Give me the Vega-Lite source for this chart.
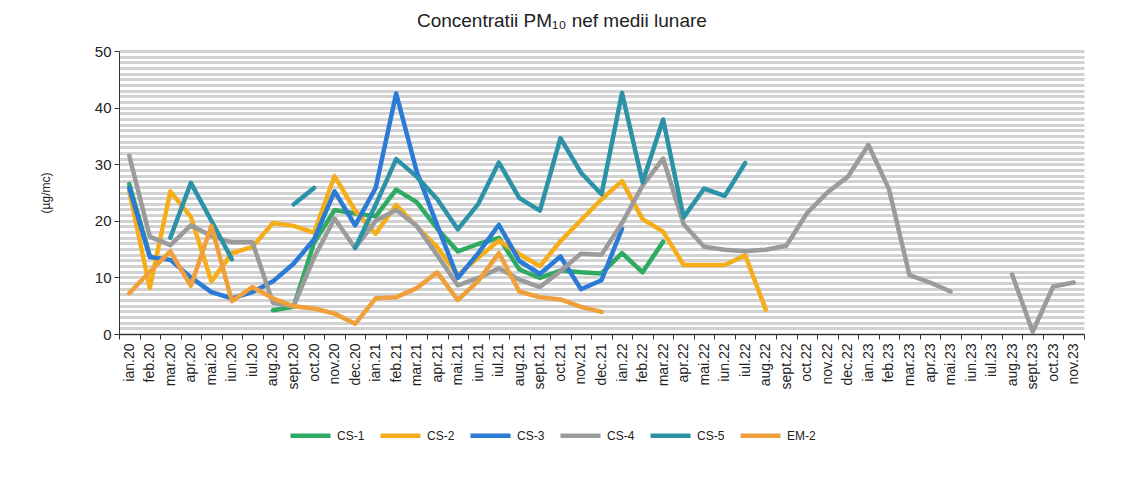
{
  "$schema": "https://vega.github.io/schema/vega-lite/v6.json",
  "width": 965,
  "height": 283,
  "padding": {"left": 39, "top": 12, "right": 10, "bottom": 5},
  "background": "white",
  "config": {"font": "Liberation Sans", "view": {"stroke": null}},
  "title": {"text": "Concentratii PM₁₀ nef medii lunare", "fontSize": 19, "fontWeight": "normal", "color": "#222222", "anchor": "middle", "frame": "bounds", "offset": 13},
  "data": {"values": [
    {"m": "ian.20", "CS-1": 26.5, "CS-2": 25.2, "CS-3": 25.8, "CS-4": 31.5, "CS-5": null, "EM-2": 7.2},
    {"m": "feb.20", "CS-1": 13.8, "CS-2": 8.1, "CS-3": 13.6, "CS-4": 17.2, "CS-5": null, "EM-2": 11},
    {"m": "mar.20", "CS-1": null, "CS-2": 25.2, "CS-3": 13.1, "CS-4": 15.7, "CS-5": 17, "EM-2": 14.6},
    {"m": "apr.20", "CS-1": null, "CS-2": 20.7, "CS-3": 10, "CS-4": 19.2, "CS-5": 26.7, "EM-2": 8.5},
    {"m": "mai.20", "CS-1": null, "CS-2": 9.3, "CS-3": 7.4, "CS-4": 17.3, "CS-5": 20, "EM-2": 19.1},
    {"m": "iun.20", "CS-1": null, "CS-2": 14.3, "CS-3": 6.3, "CS-4": 16.2, "CS-5": 13.2, "EM-2": 5.8},
    {"m": "iul.20", "CS-1": null, "CS-2": 15.4, "CS-3": 7.4, "CS-4": 16.2, "CS-5": null, "EM-2": 8.3},
    {"m": "aug.20", "CS-1": 4.2, "CS-2": 19.6, "CS-3": 9.3, "CS-4": 5.5, "CS-5": null, "EM-2": 6.3},
    {"m": "sept.20", "CS-1": 4.8, "CS-2": 19.1, "CS-3": 12.4, "CS-4": 4.9, "CS-5": 22.9, "EM-2": 4.9},
    {"m": "oct.20", "CS-1": 16.1, "CS-2": 17.9, "CS-3": 16.7, "CS-4": 13.5, "CS-5": 25.8, "EM-2": 4.5},
    {"m": "nov.20", "CS-1": 21.9, "CS-2": 27.9, "CS-3": 25.2, "CS-4": 20.4, "CS-5": null, "EM-2": 3.6},
    {"m": "dec.20", "CS-1": 21.3, "CS-2": 21.8, "CS-3": 19.2, "CS-4": 15.2, "CS-5": 15.2, "EM-2": 1.8},
    {"m": "ian.21", "CS-1": 20.8, "CS-2": 17.7, "CS-3": 25.8, "CS-4": 20, "CS-5": 22.8, "EM-2": 6.3},
    {"m": "feb.21", "CS-1": 25.5, "CS-2": 22.8, "CS-3": 42.5, "CS-4": 21.9, "CS-5": 30.9, "EM-2": 6.5},
    {"m": "mar.21", "CS-1": 23.3, "CS-2": 19, "CS-3": 28.7, "CS-4": 19.1, "CS-5": 27.8, "EM-2": 8.1},
    {"m": "apr.21", "CS-1": 18.6, "CS-2": 15.3, "CS-3": 19.2, "CS-4": 13.9, "CS-5": 23.8, "EM-2": 10.9},
    {"m": "mai.21", "CS-1": 14.6, "CS-2": 10.4, "CS-3": 9.9, "CS-4": 8.6, "CS-5": 18.5, "EM-2": 6},
    {"m": "iun.21", "CS-1": 15.9, "CS-2": 13.5, "CS-3": 14.3, "CS-4": 9.9, "CS-5": 23, "EM-2": 9.4},
    {"m": "iul.21", "CS-1": 17, "CS-2": 16.5, "CS-3": 19.3, "CS-4": 11.6, "CS-5": 30.3, "EM-2": 14.3},
    {"m": "aug.21", "CS-1": 11.4, "CS-2": 14.1, "CS-3": 12.9, "CS-4": 9.6, "CS-5": 24, "EM-2": 7.5},
    {"m": "sept.21", "CS-1": 9.9, "CS-2": 12, "CS-3": 10.6, "CS-4": 8.3, "CS-5": 21.8, "EM-2": 6.5},
    {"m": "oct.21", "CS-1": 11.2, "CS-2": 16.4, "CS-3": 13.7, "CS-4": 11.1, "CS-5": 34.6, "EM-2": 6.1},
    {"m": "nov.21", "CS-1": 10.9, "CS-2": 20.1, "CS-3": 7.9, "CS-4": 14.2, "CS-5": 28.5, "EM-2": 4.8},
    {"m": "dec.21", "CS-1": 10.7, "CS-2": 23.8, "CS-3": 9.5, "CS-4": 14, "CS-5": 24.7, "EM-2": 3.9},
    {"m": "ian.22", "CS-1": 14.3, "CS-2": 27, "CS-3": 18.6, "CS-4": 19.6, "CS-5": 42.6, "EM-2": null},
    {"m": "feb.22", "CS-1": 10.9, "CS-2": 20.3, "CS-3": null, "CS-4": 26.2, "CS-5": 26.8, "EM-2": null},
    {"m": "mar.22", "CS-1": 16.3, "CS-2": 18.1, "CS-3": null, "CS-4": 31, "CS-5": 37.9, "EM-2": null},
    {"m": "apr.22", "CS-1": null, "CS-2": 12.2, "CS-3": null, "CS-4": 19.4, "CS-5": 20.6, "EM-2": null},
    {"m": "mai.22", "CS-1": null, "CS-2": 12.2, "CS-3": null, "CS-4": 15.4, "CS-5": 25.7, "EM-2": null},
    {"m": "iun.22", "CS-1": null, "CS-2": 12.2, "CS-3": null, "CS-4": 14.9, "CS-5": 24.4, "EM-2": null},
    {"m": "iul.22", "CS-1": null, "CS-2": 13.9, "CS-3": null, "CS-4": 14.6, "CS-5": 30.2, "EM-2": null},
    {"m": "aug.22", "CS-1": null, "CS-2": 4.3, "CS-3": null, "CS-4": 14.9, "CS-5": null, "EM-2": null},
    {"m": "sept.22", "CS-1": null, "CS-2": null, "CS-3": null, "CS-4": 15.6, "CS-5": null, "EM-2": null},
    {"m": "oct.22", "CS-1": null, "CS-2": null, "CS-3": null, "CS-4": 21.3, "CS-5": null, "EM-2": null},
    {"m": "nov.22", "CS-1": null, "CS-2": null, "CS-3": null, "CS-4": 25, "CS-5": null, "EM-2": null},
    {"m": "dec.22", "CS-1": null, "CS-2": null, "CS-3": null, "CS-4": 27.8, "CS-5": null, "EM-2": null},
    {"m": "ian.23", "CS-1": null, "CS-2": null, "CS-3": null, "CS-4": 33.4, "CS-5": null, "EM-2": null},
    {"m": "feb.23", "CS-1": null, "CS-2": null, "CS-3": null, "CS-4": 25.6, "CS-5": null, "EM-2": null},
    {"m": "mar.23", "CS-1": null, "CS-2": null, "CS-3": null, "CS-4": 10.4, "CS-5": null, "EM-2": null},
    {"m": "apr.23", "CS-1": null, "CS-2": null, "CS-3": null, "CS-4": 9.1, "CS-5": null, "EM-2": null},
    {"m": "mai.23", "CS-1": null, "CS-2": null, "CS-3": null, "CS-4": 7.5, "CS-5": null, "EM-2": null},
    {"m": "iun.23", "CS-1": null, "CS-2": null, "CS-3": null, "CS-4": null, "CS-5": null, "EM-2": null},
    {"m": "iul.23", "CS-1": null, "CS-2": null, "CS-3": null, "CS-4": null, "CS-5": null, "EM-2": null},
    {"m": "aug.23", "CS-1": null, "CS-2": null, "CS-3": null, "CS-4": 10.5, "CS-5": null, "EM-2": null},
    {"m": "sept.23", "CS-1": null, "CS-2": null, "CS-3": null, "CS-4": 0.4, "CS-5": null, "EM-2": null},
    {"m": "oct.23", "CS-1": null, "CS-2": null, "CS-3": null, "CS-4": 8.4, "CS-5": null, "EM-2": null},
    {"m": "nov.23", "CS-1": null, "CS-2": null, "CS-3": null, "CS-4": 9.1, "CS-5": null, "EM-2": null}
  ]},
  "transform": [{"fold": ["CS-1", "CS-2", "CS-3", "CS-4", "CS-5", "EM-2"], "as": ["serie", "val"]}],
  "mark": {"type": "line", "invalid": "break-paths-show-domains", "strokeJoin": "round", "strokeCap": "round"},
  "encoding": {
    "x": {
      "field": "m", "type": "ordinal",
      "sort": ["ian.20","feb.20","mar.20","apr.20","mai.20","iun.20","iul.20","aug.20","sept.20","oct.20","nov.20","dec.20","ian.21","feb.21","mar.21","apr.21","mai.21","iun.21","iul.21","aug.21","sept.21","oct.21","nov.21","dec.21","ian.22","feb.22","mar.22","apr.22","mai.22","iun.22","iul.22","aug.22","sept.22","oct.22","nov.22","dec.22","ian.23","feb.23","mar.23","apr.23","mai.23","iun.23","iul.23","aug.23","sept.23","oct.23","nov.23"],
      "scale": {"type": "band", "paddingInner": 0, "paddingOuter": 0},
      "bandPosition": 0.5,
      "axis": {"title": null, "labelAngle": -90, "labelAlign": "right", "labelBaseline": "middle", "labelFontSize": 14, "labelColor": "#222222", "labelPadding": 4, "labelOverlap": false, "tickBand": "extent", "tickSize": 5, "tickColor": "#333333", "domainColor": "#333333", "grid": false}
    },
    "y": {
      "field": "val", "type": "quantitative",
      "scale": {"domain": [0, 50], "nice": false},
      "axis": {
        "title": "(µg/mc)", "titleFontSize": 12, "titleFontWeight": "normal", "titleColor": "#222222", "titlePadding": 42,
        "values": [0,1,2,3,4,5,6,7,8,9,10,11,12,13,14,15,16,17,18,19,20,21,22,23,24,25,26,27,28,29,30,31,32,33,34,35,36,37,38,39,40,41,42,43,44,45,46,47,48,49,50],
        "labelExpr": "datum.value % 10 === 0 ? datum.label : ''",
        "labelOverlap": false, "labelFontSize": 15, "labelColor": "#222222", "labelPadding": 3,
        "tickOpacity": {"condition": {"test": "datum.value % 10 === 0", "value": 1}, "value": 0},
        "tickColor": "#333333", "tickSize": 5, "domainColor": "#333333",
        "grid": true, "gridColor": "#d2d2d2", "gridWidth": 3, "gridOpacity": 1
      }
    },
    "color": {
      "field": "serie", "type": "nominal",
      "scale": {"domain": ["CS-1", "CS-2", "CS-3", "CS-4", "CS-5", "EM-2"], "range": ["#2eaa62", "#f6ad1a", "#2a7ad6", "#9b9b9b", "#2b92a8", "#f0a03a"]},
      "legend": {"title": null, "orient": "none", "legendX": 169, "legendY": 362, "direction": "horizontal", "symbolType": "stroke", "symbolSize": 1600, "symbolStrokeWidth": 4, "labelFontSize": 12, "labelColor": "#222222", "labelOffset": 4, "columnPadding": 6}
    },
    "strokeWidth": {
      "field": "serie", "type": "nominal",
      "scale": {"domain": ["CS-1", "CS-2", "CS-3", "CS-4", "CS-5", "EM-2"], "range": [4.5, 4.5, 4.5, 4.5, 4, 3.5]},
      "legend": null
    }
  }
}
